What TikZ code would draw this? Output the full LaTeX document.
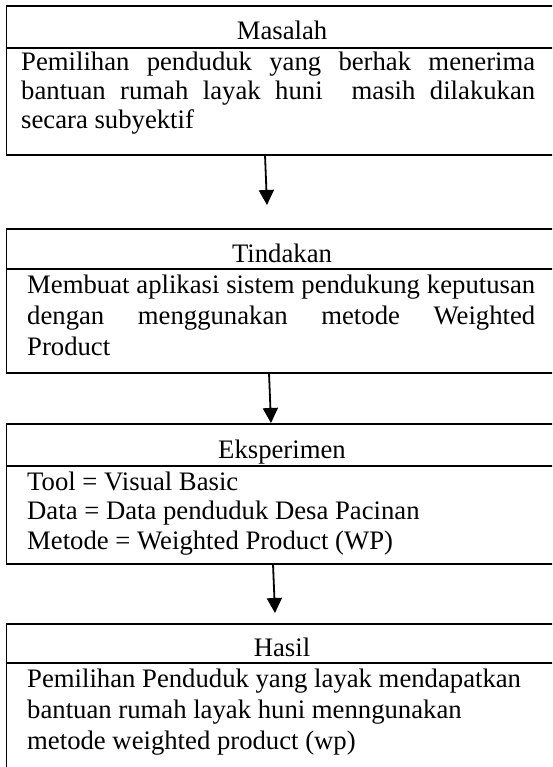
\documentclass[tikz,border=0pt]{standalone}
\usepackage{fontspec}
\setmainfont{Liberation Serif}
\usetikzlibrary{arrows.meta}
\tikzset{
  frame/.style={draw=black, line width=1.8pt},
  sep/.style={draw=black, line width=1.6pt},
  arr/.style={draw=black, line width=1.8pt, -{Triangle[width=15pt,length=15pt]}},
  head/.style={inner sep=0pt, anchor=base, font=\fontsize{26.7}{30}\selectfont},
  body/.style={inner sep=0pt, anchor=base west, font=\fontsize{26.7}{30}\selectfont},
}
\newcommand{\jline}[1]{\makebox[514pt][s]{#1}}
\begin{document}
\begin{tikzpicture}[x=1pt, y=-1pt]
\useasboundingbox (0,0) rectangle (552,767);
\clip (0,0) rectangle (552,767);
\fill[white] (0,0) rectangle (552,767);
% boxes
\draw[frame] (6.5,6) rectangle (558,155);
\draw[sep] (6.5,48) -- (558,48);
\draw[frame] (6.5,229) rectangle (558,373);
\draw[sep] (6.5,269) -- (558,269);
\draw[frame] (6.5,424) rectangle (558,564);
\draw[sep] (6.5,466) -- (558,466);
\draw[frame] (6.5,624) rectangle (558,800);
\draw[sep] (6.5,663) -- (558,663);
% headers
\node[head] (h1) at (282,40) {Masalah};
\node[head] (h2) at (282,262) {Tindakan};
\node[head] (h3) at (282,458) {Eksperimen};
\node[head] (h4) at (282,656) {Hasil};
% box 1 text
\node[body] (t11) at (21,71) {\jline{Pemilihan penduduk yang berhak menerima}};
\node[body] (t12) at (21,100) {\jline{bantuan rumah layak huni\ \ masih dilakukan}};
\node[body] (t13) at (21,129) {secara subyektif};
% box 2 text
\node[body] (t21) at (27,293) {\makebox[508pt][s]{Membuat aplikasi sistem pendukung keputusan}};
\node[body] (t22) at (27,324) {\makebox[508pt][s]{dengan menggunakan metode Weighted}};
\node[body] (t23) at (27,355) {Product};
% box 3 text
\node[body] (t31) at (27,490) {Tool = Visual Basic};
\node[body] (t32) at (27,519) {Data = Data penduduk Desa Pacinan};
\node[body] (t33) at (27,549) {Metode = Weighted Product (WP)};
% box 4 text
\node[body] (t41) at (27,687) {Pemilihan Penduduk yang layak mendapatkan};
\node[body] (t42) at (27,718) {bantuan rumah layak huni menngunakan};
\node[body] (t43) at (27,749) {metode weighted product (wp)};
% arrows
\coordinate (a1s) at (265,155);
\coordinate (a1e) at (267,205);
\coordinate (a2s) at (269,373);
\coordinate (a2e) at (271,423);
\coordinate (a3s) at (273,564);
\coordinate (a3e) at (275,613);
\draw[arr] (a1s) -- (a1e);
\draw[arr] (a2s) -- (a2e);
\draw[arr] (a3s) -- (a3e);
\end{tikzpicture}
\end{document}
